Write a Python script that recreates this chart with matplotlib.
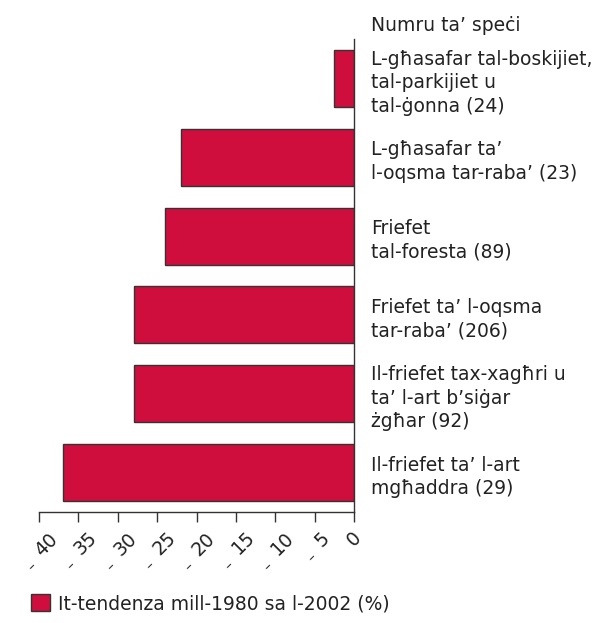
import matplotlib.pyplot as plt
import numpy as np

plt.rcParams['font.family'] = ['DejaVu Sans']
plt.rcParams['mathtext.fontset'] = 'dejavusans'

categories = [
    "L-għasafar tal-boskijiet,\ntal-parkijiet u\ntal-ġonna (24)",
    "L-għasafar ta’\nl-oqsma tar-raba’ (23)",
    "Friefet\ntal-foresta (89)",
    "Friefet ta’ l-oqsma\ntar-raba’ (206)",
    "Il-friefet tax-xagħri u\nta’ l-art b’siġar\nżgħar (92)",
    "Il-friefet ta’ l-art\nmgħaddra (29)",
]
values = [-2.5, -22, -24, -28, -28, -37]
xticks = [-40, -35, -30, -25, -20, -15, -10, -5, 0]
# the dash sits low, near the baseline, in the source chart
xticklabels = ["$_{\\mathrm{–}}$ \u2009" + str(abs(t)) if t < 0 else "0" for t in xticks]

header = "Numru ta’ speċi"
legend_label = "It-tendenza mill-1980 sa l-2002 (%)"

red = '#cf0e3e'
dark = '#333333'
txt = '#222222'
fs = 13.5

fig = plt.figure(figsize=(6.04, 6.23), dpi=100)
ax = fig.add_axes([39/604, 1 - 512/623, 315/604, 473/623])

y = np.arange(len(categories))
bars = ax.barh(y, values, height=0.725, color=red, edgecolor=dark,
               linewidth=1, label=legend_label)

ax.set_xlim(-40, 0)
ax.set_ylim(len(categories) - 0.5, -0.5)

for s in ['top', 'left']:
    ax.spines[s].set_visible(False)
for s in ['right', 'bottom']:
    ax.spines[s].set_color(dark)
    ax.spines[s].set_linewidth(1)

ax.set_xticks(xticks)
ax.set_xticklabels(xticklabels, rotation=45, ha='center', va='top',
                   fontsize=fs, color=txt)
ax.tick_params(axis='x', direction='out', length=7.5, width=1, color=dark, pad=4)

ax.yaxis.tick_right()
ax.set_yticks(y)
ax.set_yticklabels(categories, fontsize=fs, color=txt, linespacing=1.3)
ax.tick_params(axis='y', length=0, pad=12)

fig.text(371/604, 1 - 31/623, header, fontsize=fs, color=txt, va='baseline')

fig.legend(handles=[bars], labels=[legend_label], loc='lower left',
           bbox_to_anchor=(14/604, -7/623), frameon=False, fontsize=fs,
           handlelength=1.0, handleheight=1.0, handletextpad=0.45,
           labelcolor=txt)

fig.savefig('out.png', dpi=100)
